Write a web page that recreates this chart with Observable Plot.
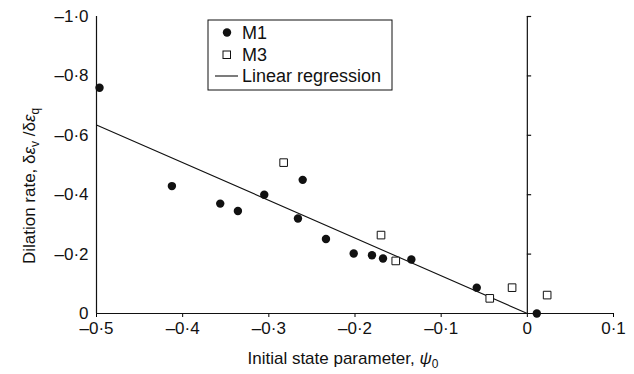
<!DOCTYPE html>
<html>
<head>
<meta charset="utf-8">
<script src="https://cdn.jsdelivr.net/npm/d3@7"></script>
<script src="https://cdn.jsdelivr.net/npm/@observablehq/plot@0.6"></script>
<style>
  html, body { margin: 0; padding: 0; background: #fff; }
</style>
</head>
<body>
<div id="chart"></div>
<script>
// Data
const m1X = [-0.4965, -0.4125, -0.3564, -0.3359, -0.3053, -0.2662, -0.2607, -0.2337, -0.2015, -0.1803, -0.1675, -0.1346, -0.0587, 0.011];
const m1Y = [-0.76, -0.429, -0.370, -0.345, -0.400, -0.320, -0.450, -0.251, -0.202, -0.196, -0.185, -0.182, -0.087, 0.0];
const m3X = [-0.2828, -0.1698, -0.1527, -0.0436, -0.0177, 0.023];
const m3Y = [-0.508, -0.264, -0.177, -0.051, -0.087, -0.062];
const regX = [-0.5, 0.0];
const regY = [-0.635, 0.0];
const xTicks = [-0.5, -0.4, -0.3, -0.2, -0.1, 0, 0.1];
const yTicks = [0, -0.2, -0.4, -0.6, -0.8, -1.0];
const seriesNames = ["M1", "M3", "Linear regression"];

const m1 = m1X.map((x, i) => ({x, y: m1Y[i]}));
const m3 = m3X.map((x, i) => ({x, y: m3Y[i]}));
const reg = regX.map((x, i) => ({x, y: regY[i]}));

const fmt = d => d === 0 ? "0" : (d < 0 ? "\u2013" : "") + Math.abs(d).toFixed(1).replace(".", "\u00b7");

const W = 634, H = 374;
const plot = Plot.plot({
  width: W,
  height: H,
  marginLeft: 96,
  marginRight: 21,
  marginTop: 16,
  marginBottom: 61,
  style: "font-family: 'Liberation Sans', Arial, sans-serif; font-size: 17px; background: #fff;",
  x: {domain: [-0.5, 0.1]},
  y: {domain: [0, -1.0]},
  marks: [
    Plot.axisX({ticks: xTicks, tickFormat: fmt, tickSize: 4, tickPadding: 4, label: null}),
    Plot.axisY({ticks: yTicks, tickFormat: fmt, tickSize: 0, tickPadding: 8, label: null}),
    Plot.ruleY([0], {stroke: "#111", strokeWidth: 1.2}),
    Plot.ruleX([-0.5], {stroke: "#111", strokeWidth: 1.2}),
    Plot.ruleX([0], {y1: 0, y2: -1.0, stroke: "#111", strokeWidth: 1.2}),
    Plot.ruleY(yTicks.filter(d => d !== 0), {y: d => d, x1: 0, x2: 0.005, stroke: "#111", strokeWidth: 1.2}),
    Plot.line(reg, {x: "x", y: "y", stroke: "#111", strokeWidth: 1.1}),
    Plot.dot(m1, {x: "x", y: "y", r: 4.2, fill: "#111", stroke: "none"}),
    Plot.dot(m3, {x: "x", y: "y", r: 4.3, symbol: "square", fill: "#fff", stroke: "#111", strokeWidth: 1})
  ]
});
document.getElementById("chart").appendChild(plot);

const svg = d3.select(plot);
const ff = "'Liberation Sans', Arial, sans-serif";

// make sure the tick labels use the intended font and size
svg.selectAll('g[aria-label*="tick label"]')
  .attr("font-size", 17).attr("font-family", ff)
  .style("font-size", "17px").style("font-family", ff);
svg.selectAll('g[aria-label*="tick label"] text')
  .attr("font-size", 17).style("font-size", "17px").style("font-family", ff).attr("fill", "#111");

// X axis label
const xl = svg.append("text")
  .attr("x", 343).attr("y", 364)
  .style("text-anchor", "middle")
  .style("font-family", ff).style("font-size", "17px").attr("fill", "#111");
xl.append("tspan").text("Initial state parameter, ");
xl.append("tspan").style("font-style", "italic").text("\u03c8");
xl.append("tspan").style("font-size", "12px").attr("dy", 4).text("0");

// Y axis label
const yl = svg.append("text")
  .attr("transform", "translate(35,186) rotate(-90)")
  .style("text-anchor", "middle")
  .style("font-family", ff).style("font-size", "17px").attr("fill", "#111");
yl.append("tspan").text("Dilation rate, \u03b4");
yl.append("tspan").style("font-style", "italic").text("\u03b5");
yl.append("tspan").style("font-size", "12px").attr("dy", 4).text("v");
yl.append("tspan").attr("dy", -4).text(" /\u03b4");
yl.append("tspan").style("font-style", "italic").text("\u03b5");
yl.append("tspan").style("font-size", "12px").attr("dy", 4).text("q");

// Legend
const lg = svg.append("g").style("font-family", ff).style("font-size", "18px").attr("fill", "#111");
lg.append("rect").attr("x", 208).attr("y", 20).attr("width", 184).attr("height", 70)
  .attr("fill", "#fff").attr("stroke", "#111").attr("stroke-width", 1);
lg.append("circle").attr("cx", 227).attr("cy", 32.5).attr("r", 4.2).attr("fill", "#111");
lg.append("rect").attr("x", 223).attr("y", 51).attr("width", 7.5).attr("height", 7.5)
  .attr("fill", "#fff").attr("stroke", "#111");
lg.append("line").attr("x1", 215).attr("x2", 238).attr("y1", 76).attr("y2", 76)
  .attr("stroke", "#111").attr("stroke-width", 1.1);
[[32.5, 0], [54.5, 1], [76, 2]].forEach(([y, i]) => {
  lg.append("text").attr("x", 242).attr("y", y).attr("dy", "0.35em")
    .style("text-anchor", "start").text(seriesNames[i]);
});
</script>
</body>
</html>
